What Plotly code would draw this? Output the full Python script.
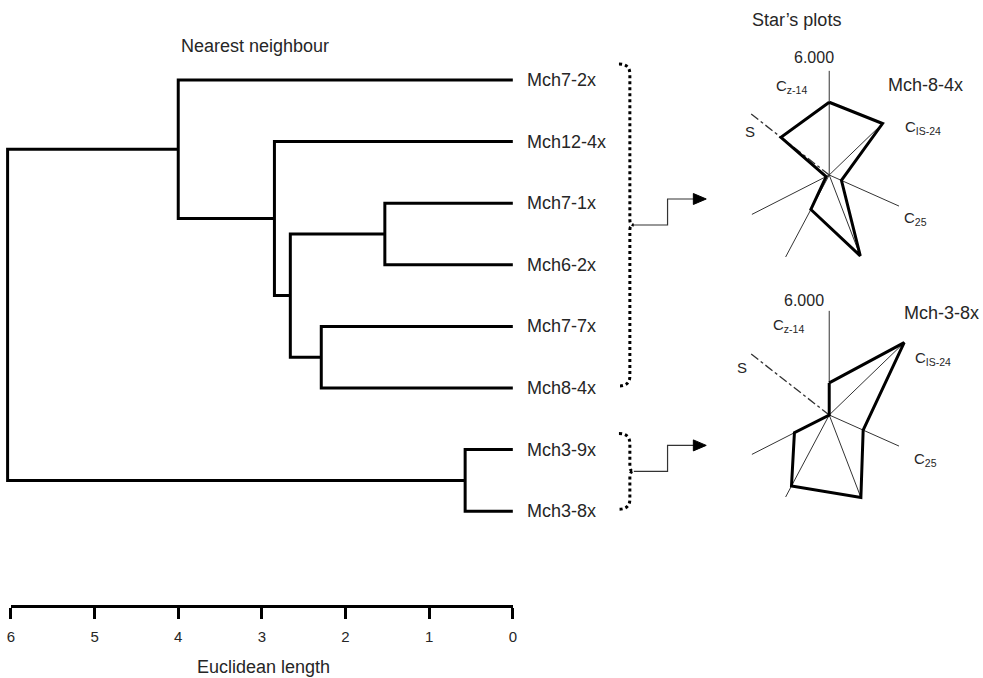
import plotly.graph_objects as go

W, H = 983, 678
FONT = "Liberation Sans, Arial, Helvetica, sans-serif"
INK = "#262626"

# ---------------- dendrogram (nearest neighbour linkage) ----------------
leaves = ["Mch7-2x", "Mch12-4x", "Mch7-1x", "Mch6-2x",
          "Mch7-7x", "Mch8-4x", "Mch3-9x", "Mch3-8x"]
# each merge joins two nodes; ids >= len(leaves) refer to earlier merges
merge_left = [2, 4, 8, 1, 0, 6, 12]
merge_right = [3, 5, 9, 10, 11, 7, 13]
merge_dist = [1.53, 2.29, 2.66, 2.85, 4.00, 0.57, 6.04]

scale_ticks = [6, 5, 4, 3, 2, 1, 0]

# ---------------- star plots ----------------
star_vars = ["Cz-14", "CIS-24", "C25", "var4", "var5", "var6", "S"]
star_mch8_4x = [4.19, 4.27, 0.77, 4.99, 2.25, 0.20, 3.53]
star_mch3_8x = [1.85, 6.00, 2.14, 5.09, 4.63, 2.25, 0.00]
star_max = 6.0

# ray directions (deg, counter-clockwise from east) and drawn ray lengths
ray_angle = [90, 44, -24, -69, -118, -153, 142]
ray_len = [6.0, 4.2, 4.4, 4.9, 5.35, 5.0, 5.85]


def fx(px):
    return px / W


def fy(py):
    return 1 - py / H


# ---- geometry of the dendrogram panel ----
PX_AT_6, PX_AT_0 = 7.0, 513.0
PPU = (PX_AT_0 - PX_AT_6) / 6.0
X_LO, X_HI = 6.08, -0.04
x_dom = [(PX_AT_6 - (X_LO - 6) * PPU) / W, (PX_AT_0 - X_HI * PPU) / W]

LEAF0_PX, LEAF_STEP = 80.0, 61.6
TOP_PX, BOT_PX = 40.0, 560.0
y_rng = [(BOT_PX - LEAF0_PX) / LEAF_STEP, (TOP_PX - LEAF0_PX) / LEAF_STEP]
y_dom = [fy(BOT_PX), fy(TOP_PX)]


def leaf_px(i):
    return LEAF0_PX + LEAF_STEP * i


n = len(leaves)
node_x = [0.0] * n
node_y = [float(i) for i in range(n)]
seg_x, seg_y = [], []
for a, b, d in zip(merge_left, merge_right, merge_dist):
    seg_x += [node_x[a], d, d, node_x[b], None]
    seg_y += [node_y[a], node_y[a], node_y[b], node_y[b], None]
    node_x.append(d)
    node_y.append((node_y[a] + node_y[b]) / 2)

fig = go.Figure()
fig.add_trace(go.Scatter(x=seg_x, y=seg_y, mode="lines",
                         line=dict(color="black", width=3),
                         hoverinfo="skip", xaxis="x", yaxis="y"))

# scale bar subplot
fig.add_trace(go.Scatter(x=[6, 0], y=[0, 0], mode="lines", opacity=0,
                         hoverinfo="skip", xaxis="x2", yaxis="y2"))

# ---- star plots on polar subplots ----
R_PX = 17.5
RMAX = 6.3


def polar_domain(cx, cy):
    rad = RMAX * R_PX
    return dict(x=[fx(cx - rad), fx(cx + rad)], y=[fy(cy + rad), fy(cy - rad)])


stars = [
    dict(vals=star_mch8_4x, name="Mch-8-4x", cx=832.0, cy=175.0, sub="polar"),
    dict(vals=star_mch3_8x, name="Mch-3-8x", cx=832.0, cy=415.0, sub="polar2"),
]

for st in stars:
    r_rays, t_rays = [], []
    for k, (ang, ln) in enumerate(zip(ray_angle, ray_len)):
        if star_vars[k] == "S":
            continue
        r_rays += [0, max(ln, st["vals"][k]), None]
        t_rays += [ang, ang, None]
    fig.add_trace(go.Scatterpolar(r=r_rays, theta=t_rays, mode="lines",
                                  line=dict(color="#333333", width=1),
                                  hoverinfo="skip", subplot=st["sub"]))
    ks = star_vars.index("S")
    fig.add_trace(go.Scatterpolar(r=[0, ray_len[ks]], theta=[ray_angle[ks]] * 2,
                                  mode="lines",
                                  line=dict(color="#333333", width=1.3, dash="dashdot"),
                                  hoverinfo="skip", subplot=st["sub"]))
    fig.add_trace(go.Scatterpolar(r=st["vals"] + st["vals"][:1],
                                  theta=ray_angle + ray_angle[:1], mode="lines",
                                  line=dict(color="black", width=3),
                                  hoverinfo="skip", subplot=st["sub"]))

polar_common = dict(
    bgcolor="rgba(0,0,0,0)",
    radialaxis=dict(visible=False, range=[0, RMAX]),
    angularaxis=dict(visible=False, rotation=0, direction="counterclockwise",
                     thetaunit="degrees"),
)

annotations = []


def text(x, y, s, size, xanchor="left", color=INK):
    annotations.append(dict(x=fx(x), y=fy(y), xref="paper", yref="paper",
                            text=s, showarrow=False, xanchor=xanchor,
                            yanchor="middle",
                            font=dict(family=FONT, size=size, color=color)))


# leaf labels
for i, lab in enumerate(leaves):
    annotations.append(dict(x=0, y=i, xref="x", yref="y", text=lab,
                            showarrow=False, xanchor="left", yanchor="middle",
                            xshift=12,
                            font=dict(family=FONT, size=18, color=INK)))

text(176, 46, "Nearest neighbour", 18)
text(262, 667, "Euclidean length", 18, xanchor="center")
text(752, 20, "Star\u2019s plots", 18)

star_labels = [
    dict(top=(817, 58), cz=(776, 86), nm=(889, 85), cis=(906, 127), c25=(905, 218), s=(745, 132)),
    dict(top=(807, 300), cz=(773, 325), nm=(905, 313), cis=(916, 358), c25=(915, 459), s=(737, 367)),
]
for st, lb in zip(stars, star_labels):
    text(lb["top"][0], lb["top"][1], f"{star_max:.3f}", 16, xanchor="center")
    text(lb["cz"][0], lb["cz"][1], "C<sub>z-14</sub>", 15)
    text(lb["nm"][0], lb["nm"][1], st["name"], 18)
    text(lb["cis"][0], lb["cis"][1], "C<sub>IS-24</sub>", 15)
    text(lb["c25"][0], lb["c25"][1], "C<sub>25</sub>", 15)
    text(lb["s"][0], lb["s"][1], "S", 15)

# ---- braces and step arrows linking clusters to their star plots ----
shapes = []


def P(x, y):
    return f"{fx(x):.5f},{fy(y):.5f}"


def brace(first, last):
    yt = leaf_px(first) - 16
    yb = leaf_px(last) - 2
    ym = (yt + yb) / 2
    xs, xt, xb = 631, 620, 635
    path = (f"M {P(xt, yt)} Q {P(xs, yt)} {P(xs, yt + 10)} L {P(xs, ym - 5)} "
            f"Q {P(xs, ym)} {P(xb, ym)} Q {P(xs, ym)} {P(xs, ym + 5)} "
            f"L {P(xs, yb - 10)} Q {P(xs, yb)} {P(xt, yb)}")
    shapes.append(dict(type="path", path=path, xref="paper", yref="paper",
                       line=dict(color="black", width=3, dash="dot")))
    ya = ym - 26
    step = f"M {P(xb, ym)} L {P(669, ym)} L {P(669, ya)} L {P(696, ya)}"
    shapes.append(dict(type="path", path=step, xref="paper", yref="paper",
                       line=dict(color="#333333", width=1.2)))
    head = f"M {P(695, ya - 5.5)} L {P(708, ya)} L {P(695, ya + 5.5)} Z"
    shapes.append(dict(type="path", path=head, xref="paper", yref="paper",
                       fillcolor="black", line=dict(color="black", width=1)))


brace(0, 5)
brace(6, 7)

fig.update_layout(
    width=W, height=H,
    margin=dict(l=0, r=0, t=0, b=0),
    paper_bgcolor="white", plot_bgcolor="rgba(0,0,0,0)",
    showlegend=False,
    font=dict(family=FONT, color=INK),
    xaxis=dict(domain=x_dom, range=[X_LO, X_HI], visible=False),
    yaxis=dict(domain=y_dom, range=y_rng, visible=False),
    xaxis2=dict(domain=[fx(PX_AT_6), fx(PX_AT_0)], range=[6, 0], anchor="y2",
                showline=True, linewidth=3, linecolor="black",
                ticks="outside", ticklen=11, tickwidth=3, tickcolor="black",
                tickvals=scale_ticks, ticktext=[str(t) for t in scale_ticks],
                tickfont=dict(family=FONT, size=15, color=INK),
                ticklabelstandoff=5,
                showgrid=False, zeroline=False, fixedrange=True),
    yaxis2=dict(domain=[fy(605), fy(595)], range=[0, 1], visible=False,
                anchor="x2"),
    polar=dict(domain=polar_domain(stars[0]["cx"], stars[0]["cy"]), **polar_common),
    polar2=dict(domain=polar_domain(stars[1]["cx"], stars[1]["cy"]), **polar_common),
    annotations=annotations,
    shapes=shapes,
)

fig.write_html("out.html")
